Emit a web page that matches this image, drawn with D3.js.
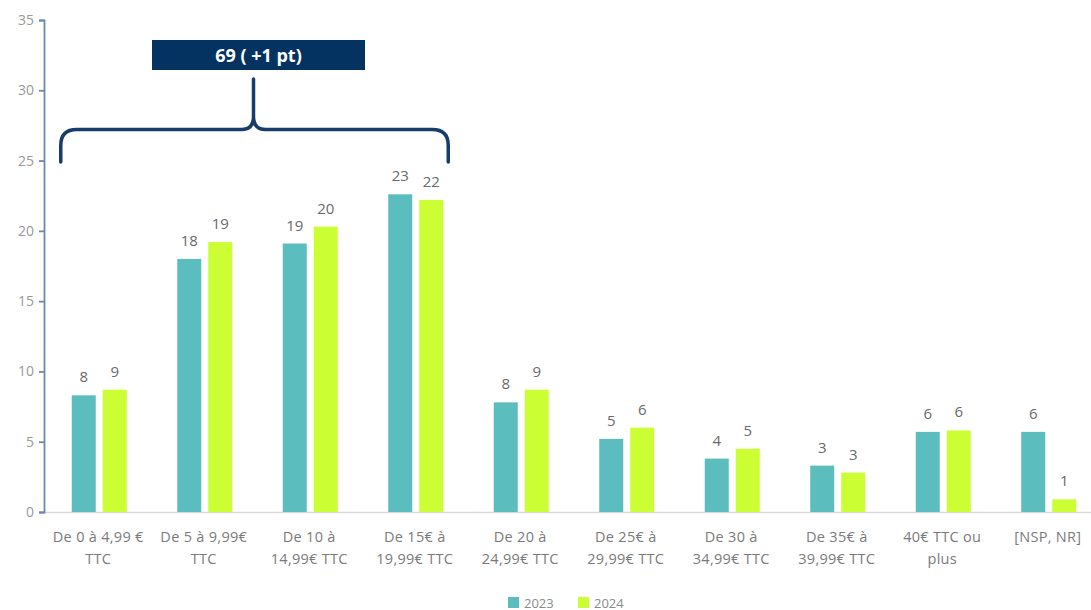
<!DOCTYPE html>
<html>
<head>
<meta charset="utf-8">
<script src="https://cdn.jsdelivr.net/npm/d3@7"></script>
<style>
  html, body { margin: 0; padding: 0; background: #fff; }
  svg { display: block; font-family: "Open Sans", Roboto, sans-serif; }
</style>
</head>
<body>
<svg id="chart" width="1091" height="610"></svg>
<script>
// Price brackets (two-line labels)
const categories = [
  ["De 0 à 4,99 €", "TTC"],
  ["De 5 à 9,99€", "TTC"],
  ["De 10 à", "14,99€ TTC"],
  ["De 15€ à", "19,99€ TTC"],
  ["De 20 à", "24,99€ TTC"],
  ["De 25€ à", "29,99€ TTC"],
  ["De 30 à", "34,99€ TTC"],
  ["De 35€ à", "39,99€ TTC"],
  ["40€ TTC ou", "plus"],
  ["[NSP, NR]"]
];
const seriesNames = ["2023", "2024"];
const values2023 = [8.3, 18.0, 19.1, 22.6, 7.8, 5.2, 3.8, 3.3, 5.7, 5.7];
const values2024 = [8.7, 19.2, 20.3, 22.2, 8.7, 6.0, 4.5, 2.8, 5.8, 0.9];
const yTicks = [0, 5, 10, 15, 20, 25, 30, 35];
const colors = ["#5cbdbe", "#cbfe33"];
const bracketLabel = "69 ( +1 pt)";
const bracketGroups = [0, 3]; // first and last category covered by the brace

const svg = d3.select("#chart");
const y0 = 512, yTop = 20;
const xLeft = 44;

const y = d3.scaleLinear().domain([0, 35]).range([y0, yTop]);
const x = d3.scaleBand().domain(d3.range(categories.length)).range([46.5, 1101.5]).padding(0);
const inner = 55;
const x1 = d3.scaleBand().domain(seriesNames).range([0, inner]).paddingInner(0.226).paddingOuter(0);
const groupOffset = (x.bandwidth() - inner) / 2;

// baseline
svg.append("line")
  .attr("x1", xLeft).attr("x2", 1091)
  .attr("y1", y0 + 0.5).attr("y2", y0 + 0.5)
  .attr("stroke", "#d9d9d9").attr("stroke-width", 1.5);

// y axis
const yAxis = d3.axisLeft(y).tickValues(yTicks).tickSize(5).tickPadding(5);
const gy = svg.append("g").attr("transform", `translate(${xLeft},0)`).call(yAxis);
gy.select(".domain").attr("stroke", "#6a88b5").attr("stroke-width", 1.8);
gy.selectAll(".tick line").attr("stroke", "#6a88b5").attr("stroke-width", 1.8);
gy.selectAll(".tick text").attr("fill", "#999").attr("font-size", 14).attr("font-family", "'Open Sans', sans-serif");

// bars
const series = [values2023, values2024];
const groups = svg.append("g").selectAll("g")
  .data(categories.map((c, i) => i))
  .join("g")
  .attr("transform", i => `translate(${x(i) + groupOffset},0)`);

groups.selectAll("rect")
  .data(i => seriesNames.map((s, k) => ({ s, k, v: series[k][i] })))
  .join("rect")
  .attr("x", d => x1(d.s))
  .attr("width", x1.bandwidth())
  .attr("y", d => y(d.v))
  .attr("height", d => y0 - y(d.v))
  .attr("fill", d => colors[d.k]);

groups.selectAll("text.val")
  .data(i => seriesNames.map((s, k) => ({ s, k, v: series[k][i] })))
  .join("text")
  .attr("class", "val")
  .attr("x", d => x1(d.s) + x1.bandwidth() / 2)
  .attr("y", d => y(d.v) - 13)
  .attr("text-anchor", "middle")
  .attr("font-size", 15)
  .attr("fill", "#6a6a6a")
  .text(d => d3.format(".0f")(d.v));

// category labels
const xl = svg.append("g").selectAll("text")
  .data(categories.map((c, i) => ({ c, i })))
  .join("text")
  .attr("y", 542)
  .attr("text-anchor", "middle")
  .attr("font-size", 14.5)
  .attr("letter-spacing", 0.3)
  .attr("fill", "#7a7a7a");
xl.selectAll("tspan")
  .data(d => d.c.map((line, j) => ({ line, j, d })))
  .join("tspan")
  .attr("x", t => x(t.d.i) + x.bandwidth() / 2 - 1)
  .attr("dy", t => t.j === 0 ? 0 : 22)
  .text(t => t.line);

// brace over the first groups
const bl = x(bracketGroups[0]) + groupOffset - 11;
const br = x(bracketGroups[1]) + groupOffset + inner + 5;
const bc = 253.5;
const by = 129.5, bBot = 162, bStem = 79, r = 16;
svg.append("path")
  .attr("d", `M${bl},${bBot} V${by + r} Q${bl},${by} ${bl + r},${by} H${bc - 12} Q${bc},${by} ${bc},${by - 13} V${bStem}
              M${bc},${by - 13} Q${bc},${by} ${bc + 12},${by} H${br - r} Q${br},${by} ${br},${by + r} V${bBot}`)
  .attr("fill", "none")
  .attr("stroke", "#173d6c")
  .attr("stroke-width", 3.5)
  .attr("stroke-linecap", "round");

// total box
svg.append("rect")
  .attr("x", 152).attr("y", 40).attr("width", 213).attr("height", 30)
  .attr("fill", "#043362");
svg.append("text")
  .attr("x", 258.5).attr("y", 61.5)
  .attr("text-anchor", "middle")
  .attr("font-size", 18).attr("font-weight", "bold")
  .attr("fill", "#fff")
  .text(bracketLabel);

// legend
const lg = svg.append("g").attr("transform", "translate(508,597)");
const items = lg.selectAll("g").data(seriesNames).join("g")
  .attr("transform", (d, i) => `translate(${i * 70},0)`);
items.append("rect").attr("width", 11).attr("height", 11).attr("fill", (d, i) => colors[i]);
items.append("text").attr("x", 16).attr("y", 10.5).attr("font-size", 13).attr("fill", "#8a8a8a").text(d => d);
</script>
</body>
</html>
